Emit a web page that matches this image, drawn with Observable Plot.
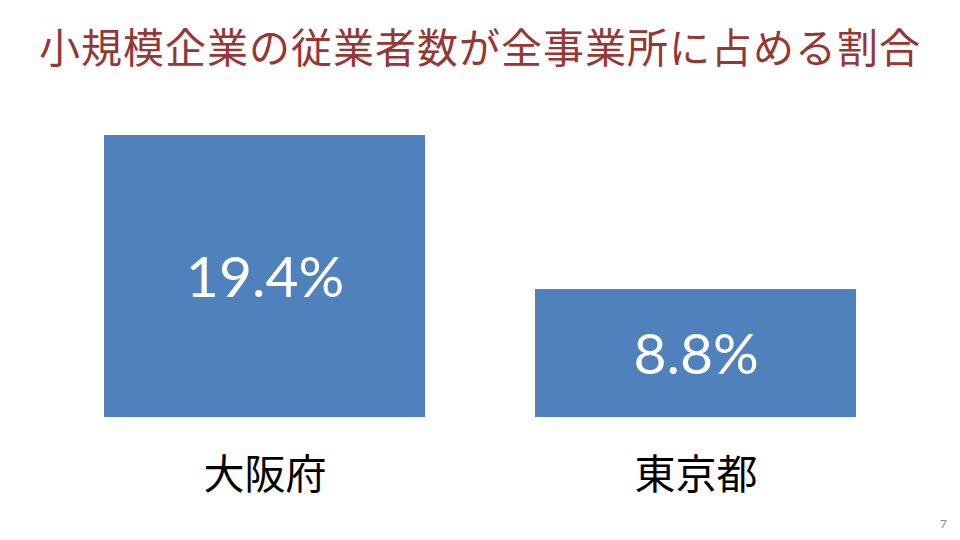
<!DOCTYPE html>
<html>
<head>
<meta charset="utf-8">
<script src="https://cdn.jsdelivr.net/npm/d3@7"></script>
<script src="https://cdn.jsdelivr.net/npm/@observablehq/plot@0.6"></script>
<style>
  html, body { margin: 0; padding: 0; background: #fff; width: 960px; height: 540px; overflow: hidden; }
  #title { height: 90px; line-height: 90px; text-align: center; font-family: "Noto Sans CJK JP", sans-serif; font-size: 41px; color: #953735; letter-spacing: 1px; white-space: nowrap; }
  #chart { position: relative; }
  #page { position: absolute; left: 940px; top: 516px; font-family: "Lato", sans-serif; font-size: 12px; color: #8c8c8c; }
</style>
</head>
<body>
<div id="title">小規模企業の従業者数が全事業所に占める割合</div>
<div id="chart"></div>
<div id="page">7</div>
<script>
const categories = ["大阪府", "東京都"];
const values = [19.4, 8.8];
const valueLabels = ["19.4%", "8.8%"];

const data = categories.map((c, i) => ({category: c, value: values[i], label: valueLabels[i]}));

const chart = Plot.plot({
  width: 960,
  height: 450,
  marginTop: 45,
  marginBottom: 123,
  marginLeft: 104,
  marginRight: 104,
  x: {domain: categories, paddingInner: 110 / 431, paddingOuter: 0, axis: null},
  y: {domain: [0, 19.4], axis: null},
  marks: [
    Plot.barY(data, {x: "category", y: "value", fill: "#4f81bd"}),
    Plot.text(data, {x: "category", y: d => d.value / 2, text: "label", fill: "white", fontSize: 57, fontFamily: "Lato, 'Open Sans', sans-serif", lineAnchor: "middle", dy: 2}),
    Plot.text(data, {x: "category", y: 0, text: "category", fill: "black", fontSize: 41, fontFamily: "'Noto Sans CJK JP', sans-serif", lineAnchor: "middle", dy: 58})
  ]
});
document.getElementById("chart").appendChild(chart);
</script>
</body>
</html>
